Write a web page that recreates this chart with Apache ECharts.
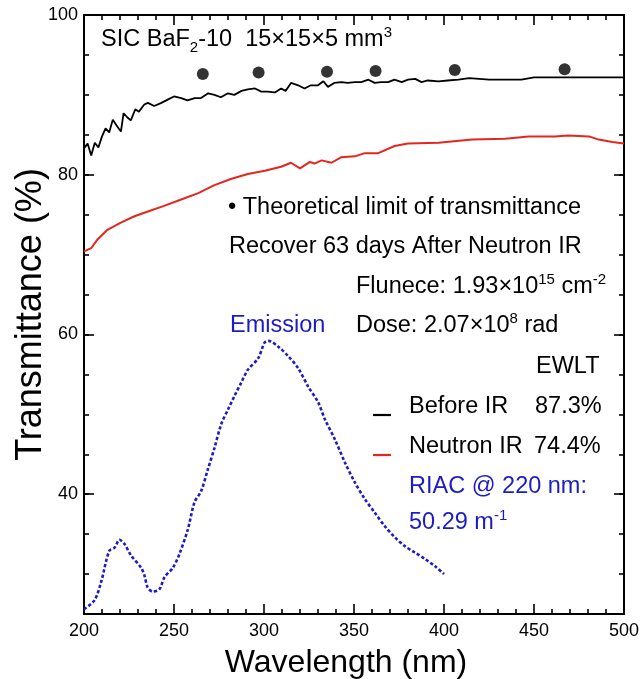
<!DOCTYPE html>
<html><head><meta charset="utf-8">
<script src="https://cdn.jsdelivr.net/npm/echarts@6/dist/echarts.min.js"></script>
<style>html,body{margin:0;padding:0;background:#fff}#c{width:643px;height:679px}</style>
</head><body><div id="c"></div>
<script>
// ---- Data ----
const beforeX = [200,202,204,206,208,210,212,214,216,218,220.5,222,224,226,228.5,230.5,233.5,235.5,239,243,246.5,250,254,257.5,261.5,265,269,272.5,276,280,283.5,287.5,291,295,298.5,302,306,309.5,312,315,319,322.5,326,330,333,335.5,339,343,346.5,350.5,354,358,361.5,365,369,372.5,376.5,380,384,387.5,391,397,402,408,414,425,443,450,462,480,500];
const beforeY = [83.3,83.9,82.4,84.0,83.4,84.8,85.8,85.3,86.9,86.2,85.4,87.7,87.2,86.8,88.2,87.9,88.8,89.0,88.6,89.0,89.4,89.8,89.6,89.3,89.6,89.6,90.2,90.0,89.7,90.2,90.0,90.5,90.7,90.8,90.4,90.4,90.3,90.8,90.5,91.5,91.2,90.8,91.2,91.2,91.7,91.0,91.5,91.6,91.5,91.6,91.6,91.9,91.5,91.6,91.6,91.9,91.6,91.9,92.0,91.6,91.8,91.7,91.8,91.9,92.1,91.9,91.9,92.2,92.2,92.2,92.2];

const neutronX = [200,204,207.5,213,220.5,228,235.5,244.5,254,263.5,272.5,282,291,300.5,309.5,315,320,325.5,328,332,337.5,343,350.5,356,363.5,372.5,380,397,415.5,434,447,461.5,469,480.5,486,493.5,500];
const neutronY = [70.4,70.8,71.9,73.1,74.0,74.8,75.4,76.1,76.9,77.7,78.7,79.5,80.1,80.5,81.0,81.5,80.8,81.6,81.4,81.8,81.5,82.2,82.3,82.7,82.7,83.6,83.9,84.0,84.4,84.5,84.8,84.8,84.9,84.8,84.4,84.1,83.9];

const theoryX = [266,297,335,362,406,467];
const theoryY = [92.6,92.8,92.9,93.0,93.1,93.2];

const emissionX = [200,205.8,209.5,214,217,219.7,222.4,226.2,231.7,233.6,235.4,238.2,241.9,244.7,249.4,253,257.7,261.4,265.1,268.8,272.5,276.2,280,283.6,287.4,291.1,296.7,300.4,302.5,307.8,313.4,318.9,324.5,330.1,333.8,339.3,344.9,350.4,356,361.5,367.1,372.7,378.2,383.8,389.4,394.9,400];
const emissionY = [25.6,26.7,29.0,32.9,33.3,34.3,33.8,32.3,30.8,29.8,28.3,27.8,28.1,29.6,30.8,32.5,35.6,39.0,40.4,43.1,45.8,48.75,50.6,52.3,54.0,55.6,57.0,59.0,59.2,58.5,57.3,55.8,53.5,51.5,49.4,46.9,44.0,41.5,39.4,37.7,36.0,34.6,33.5,32.7,31.9,31.0,30.0];

const xTicks = {min:200, max:500, step:50};
const yTicks = {min:25, max:100, step:5};
const yLabelValues = [40,60,80,100];

const zip = (xs, ys) => xs.map((x, i) => [x, ys[i]]);

// ---- Styles ----
const FF = '"Liberation Sans", Arial, sans-serif';
const BLUE = '#1c1cc6';
const RED = '#e4261e';
const FS = 23.5;

const chart = echarts.init(document.getElementById('c'), null, {renderer: 'canvas'});

const lineAx = {show: true, lineStyle: {color: '#000', width: 2}};
const tickStyle = {color: '#000', width: 1.6};

function xAx(pos, showLabel) {
  return {
    type: 'value', position: pos, min: xTicks.min, max: xTicks.max, interval: xTicks.step,
    axisLine: lineAx,
    axisTick: {show: true, inside: true, length: 10, lineStyle: tickStyle},
    minorTick: {show: true, splitNumber: 5, length: 5, lineStyle: tickStyle},
    splitLine: {show: false}, minorSplitLine: {show: false},
    axisLabel: {show: showLabel, fontSize: 18, color: '#000', fontFamily: FF, margin: 8},
    name: showLabel ? 'Wavelength (nm)' : '',
    nameLocation: 'middle', nameGap: 33,
    nameTextStyle: {fontSize: 32, color: '#000', fontFamily: FF, padding: [0, 16, 0, 0]}
  };
}
function yMinor(pos) {
  return {
    type: 'value', position: pos, min: yTicks.min, max: yTicks.max, interval: yTicks.step,
    axisLine: lineAx,
    axisTick: {show: true, inside: true, length: 5, lineStyle: tickStyle},
    splitLine: {show: false},
    axisLabel: {show: false}
  };
}
function yMajor(pos, showLabel) {
  return {
    type: 'value', position: pos, min: yTicks.min, max: yTicks.max, interval: yTicks.step,
    axisLine: {show: false},
    axisTick: {show: true, inside: true, length: 10, lineStyle: tickStyle, customValues: yLabelValues},
    splitLine: {show: false},
    axisLabel: {show: showLabel, customValues: yLabelValues, fontSize: 18, color: '#000', fontFamily: FF, margin: 6},
    name: showLabel ? 'Transmittance (%)' : '',
    nameLocation: 'middle', nameGap: 35, nameMoveOverlap: false,
    nameTextStyle: {fontSize: 36, color: '#000', fontFamily: FF}
  };
}

function txt(x, y, text, color, extra) {
  return Object.assign({
    type: 'text', silent: true, z: 100,
    style: {
      x: x, y: y, text: text, fill: color || '#000',
      fontSize: FS, fontFamily: FF, lineHeight: 30,
      verticalAlign: 'middle', align: 'left',
      rich: {
        sup: {fontSize: 15, fontFamily: FF, lineHeight: 9, verticalAlign: 'top', fill: color || '#000'},
        sub: {fontSize: 15, fontFamily: FF, lineHeight: 8, verticalAlign: 'bottom', fill: color || '#000'}
      }
    }
  }, extra || {});
}

const option = {
  animation: false,
  backgroundColor: '#fff',
  grid: {left: 84, right: 19, top: 15, bottom: 65, containLabel: false, outerBoundsMode: 'none'},
  xAxis: [xAx('bottom', true), xAx('top', false)],
  yAxis: [yMajor('left', true), yMinor('left'), yMinor('right'), yMajor('right', false)],
  series: [
    {name: 'Emission', type: 'line', data: zip(emissionX, emissionY), showSymbol: false, smooth: 0.3,
     lineStyle: {color: BLUE, width: 2.6, type: [3.2, 2.2]}, z: 3},
    {name: 'Neutron IR', type: 'line', data: zip(neutronX, neutronY), showSymbol: false,
     lineStyle: {color: RED, width: 2}, z: 4},
    {name: 'Before IR', type: 'line', data: zip(beforeX, beforeY), showSymbol: false,
     lineStyle: {color: '#000', width: 1.8}, z: 5},
    {name: 'Theoretical limit', type: 'scatter', data: zip(theoryX, theoryY), symbolSize: 12,
     itemStyle: {color: '#000'}, z: 6}
  ],
  graphic: [
    txt(101, 40, 'SIC BaF{sub|2}-10  15×15×5 mm{sup|3}'),
    txt(228, 208, '• Theoretical limit of transmittance'),
    txt(229, 247, 'Recover 63 days After Neutron IR'),
    txt(356, 287, 'Flunece: 1.93×10{sup|15} cm{sup|-2}'),
    txt(230, 326, 'Emission', BLUE),
    txt(356, 326, 'Dose: 2.07×10{sup|8} rad'),
    txt(536, 367, 'EWLT'),
    txt(409, 407, 'Before IR'),
    txt(535, 407, '87.3%'),
    txt(409, 447, 'Neutron IR'),
    txt(534, 447, '74.4%'),
    txt(409, 487, 'RIAC @ 220 nm:', BLUE),
    txt(409, 523, '50.29 m{sup|-1}', BLUE),
    {type: 'line', silent: true, shape: {x1: 373, y1: 415, x2: 391, y2: 415}, style: {stroke: '#000', lineWidth: 2.2}},
    {type: 'line', silent: true, shape: {x1: 373, y1: 455, x2: 391, y2: 455}, style: {stroke: RED, lineWidth: 2.2}}
  ]
};
chart.setOption(option);
</script>
</body></html>
